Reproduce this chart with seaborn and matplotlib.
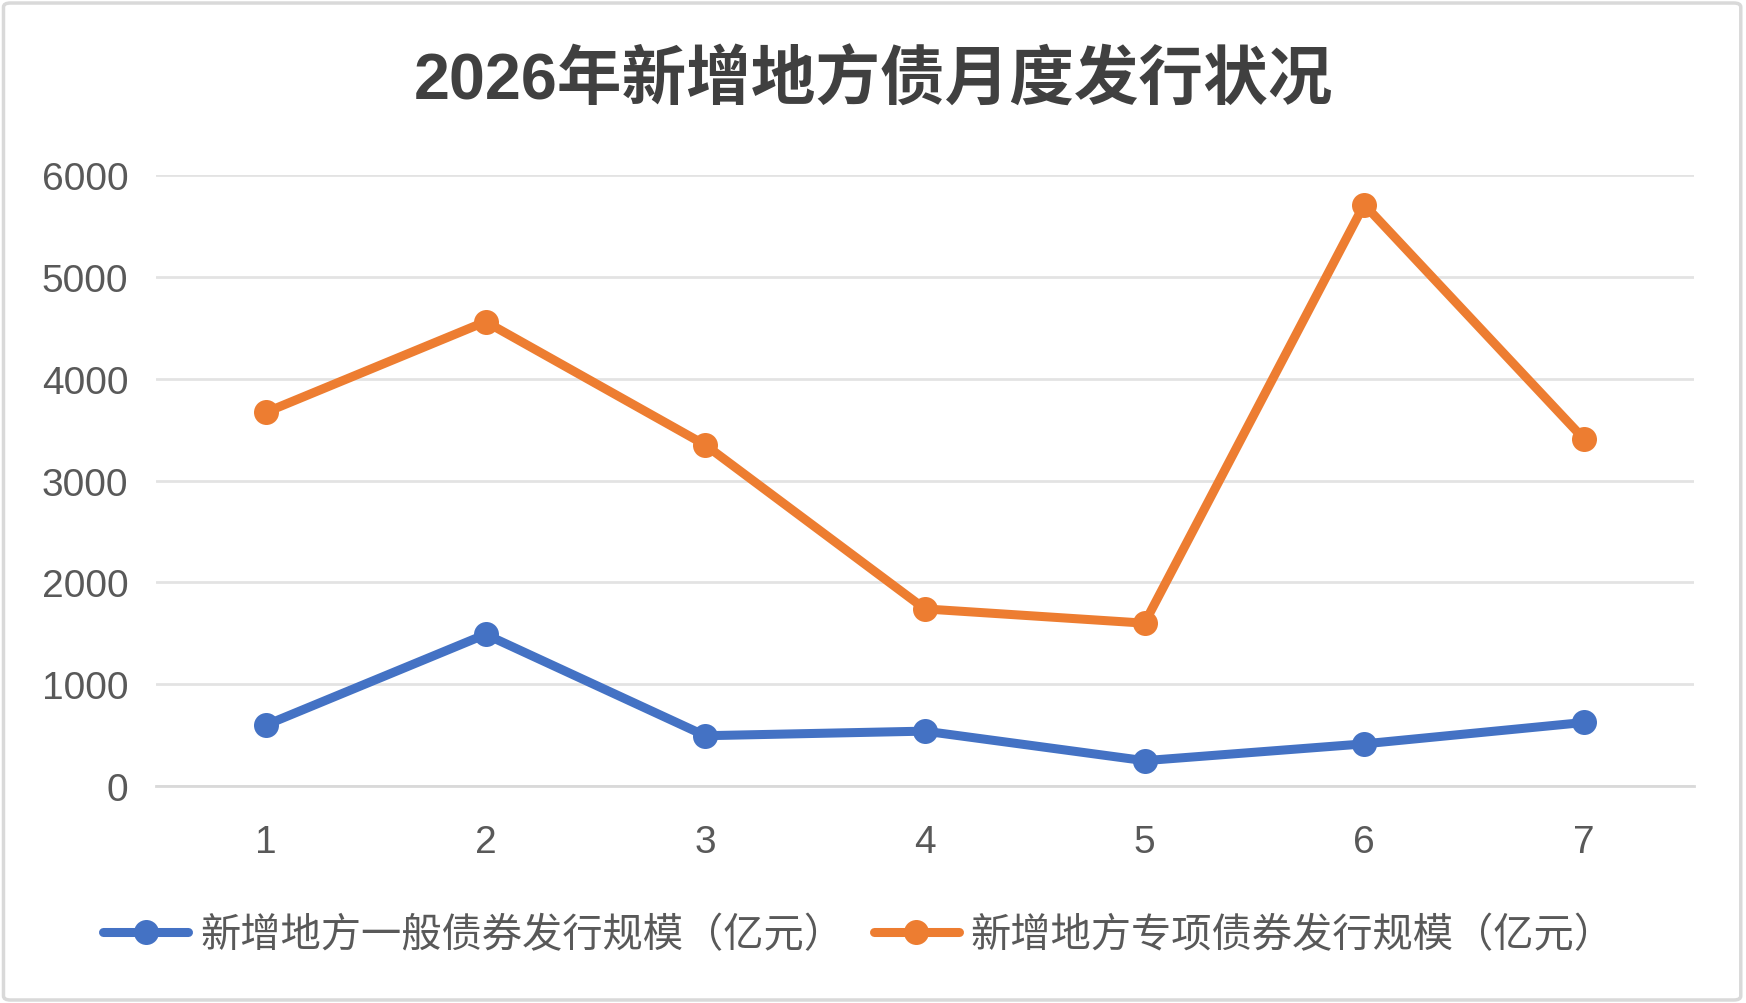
import matplotlib
matplotlib.use("Agg")
import matplotlib.pyplot as plt
import seaborn as sns
import pandas as pd
from matplotlib.patches import FancyBboxPatch

# --- data ---
months = [1, 2, 3, 4, 5, 6, 7]
general_bonds = [600, 1490, 495, 540, 250, 415, 625]      # 新增地方一般债券
special_bonds = [3670, 4560, 3350, 1740, 1600, 5710, 3410]  # 新增地方专项债券
series_names = ['新增地方一般债券发行规模（亿元）', '新增地方专项债券发行规模（亿元）']
y_ticks = [0, 1000, 2000, 3000, 4000, 5000, 6000]

df = pd.DataFrame({
    'month': months * 2,
    'value': general_bonds + special_bonds,
    'series': [series_names[0]] * len(months) + [series_names[1]] * len(months),
})

sns.set_theme(style='white')
plt.rcParams['font.family'] = ['Liberation Sans', 'Noto Sans CJK SC', 'DejaVu Sans']

fig = plt.figure(figsize=(17.46, 10.04), dpi=100, facecolor='white')
ax = fig.add_axes([0.0894, 0.216, 0.8806, 0.6087])

palette = {series_names[0]: '#4472C4', series_names[1]: '#ED7D31'}
sns.lineplot(data=df, x='month', y='value', hue='series', palette=palette,
             marker='o', markersize=18, markeredgewidth=0, linewidth=6.5,
             ax=ax, legend=True, clip_on=False, zorder=3)

ax.set_xlim(0.5, 7.5)
ax.set_ylim(0, 6000)
ax.set_xticks(months)
ax.set_yticks(y_ticks)
ax.set_xlabel('')
ax.set_ylabel('')
ax.tick_params(axis='both', length=0, labelsize=28, colors='#595959')
ax.tick_params(axis='y', pad=20)
ax.tick_params(axis='x', pad=27)
ax.grid(axis='y', color='#e3e3e3', linewidth=2)
ax.set_axisbelow(True)
for side in ['top', 'right', 'left']:
    ax.spines[side].set_visible(False)
ax.spines['bottom'].set_color('#d9d9d9')
ax.spines['bottom'].set_linewidth(2)

# legend below the plot, one row
handles, labels = ax.get_legend_handles_labels()
ax.get_legend().remove()
leg = fig.legend(handles, labels, loc='center', bbox_to_anchor=(0.492, 0.068), ncol=2,
                 frameon=False, handlelength=2.1, handletextpad=0.3, columnspacing=0.75,
                 prop={'family': ['Noto Sans CJK SC', 'DejaVu Sans'], 'size': 29})
for t in leg.get_texts():
    t.set_color('#595959')

fig.text(0.5, 0.919, '2026年新增地方债月度发行状况', ha='center', va='center',
         fontsize=46.5, fontweight='bold', color='#404040',
         family=['Liberation Sans', 'Noto Sans CJK SC', 'DejaVu Sans'])

# light rounded border round the whole chart
border = FancyBboxPatch((0.002, 0.003), 0.995, 0.993, boxstyle='round,pad=0,rounding_size=0.004',
                        transform=fig.transFigure, fill=False, edgecolor='#d9d9d9', linewidth=2.5)
fig.patches.append(border)

plt.savefig('out.png', dpi=100, facecolor='white')
plt.close(fig)
